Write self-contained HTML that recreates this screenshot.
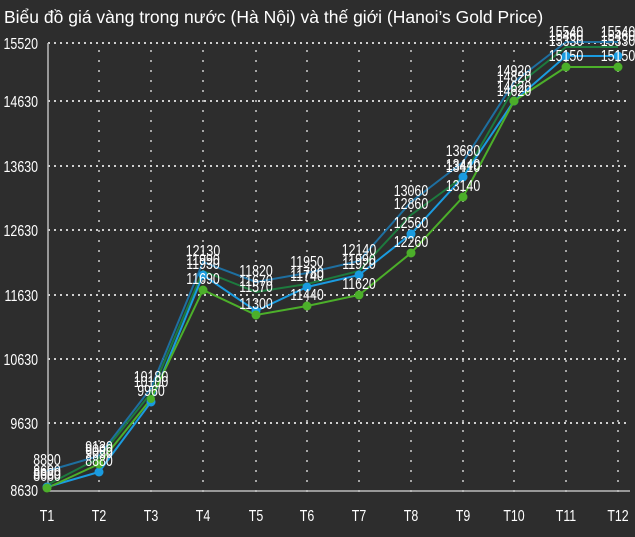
<!DOCTYPE html>
<html><head><meta charset="utf-8"><style>
html,body{margin:0;padding:0;background:#2d2d2d;}
svg{display:block}
.t{font-family:"Liberation Sans",sans-serif;fill:#fff;font-size:15.5px;}
.ax{font-family:"Liberation Sans",sans-serif;fill:#fff;font-size:15.5px;}
</style></head><body>
<svg width="635" height="537" viewBox="0 0 635 537" xmlns="http://www.w3.org/2000/svg">
<rect width="635" height="537" fill="#2d2d2d"/>
<text x="4" y="23" font-family="Liberation Sans, sans-serif" font-size="17.5" fill="#fff">Biểu đồ giá vàng trong nước (Hà Nội) và thế giới (Hanoi’s Gold Price)</text>
<g stroke="#cfcfcf" stroke-width="2" stroke-dasharray="2,4" fill="none">
<line x1="48" y1="43" x2="630" y2="43"/><line x1="48" y1="101" x2="630" y2="101"/>
<line x1="48" y1="166" x2="630" y2="166"/><line x1="48" y1="230" x2="630" y2="230"/>
<line x1="48" y1="295" x2="630" y2="295"/><line x1="48" y1="359" x2="630" y2="359"/>
<line x1="48" y1="423" x2="630" y2="423"/>
</g>
<g stroke="#cfcfcf" stroke-width="1.5" stroke-dasharray="2,8" fill="none">
<line x1="99" y1="50" x2="99" y2="500"/><line x1="151" y1="50" x2="151" y2="500"/>
<line x1="203" y1="50" x2="203" y2="500"/><line x1="256" y1="50" x2="256" y2="500"/>
<line x1="307" y1="50" x2="307" y2="500"/><line x1="359" y1="50" x2="359" y2="500"/>
<line x1="411" y1="50" x2="411" y2="500"/><line x1="463" y1="50" x2="463" y2="500"/>
<line x1="514" y1="50" x2="514" y2="500"/><line x1="566" y1="50" x2="566" y2="500"/>
<line x1="618" y1="50" x2="618" y2="500"/>
</g>
<line x1="48" y1="43" x2="48" y2="491" stroke="#bbb" stroke-width="1.5"/>
<line x1="48" y1="491" x2="630" y2="491" stroke="#bbb" stroke-width="1.5"/>
<g transform="scale(0.8,1)">
<g class="ax" text-anchor="end">
<text x="47.5" y="49">15520</text>
<text x="47.5" y="107">14630</text>
<text x="47.5" y="172">13630</text>
<text x="47.5" y="236">12630</text>
<text x="47.5" y="301">11630</text>
<text x="47.5" y="365">10630</text>
<text x="47.5" y="429">9630</text>
<text x="47.5" y="496">8630</text>
</g>
<g class="ax" text-anchor="middle" font-size="17">
<text x="58.75" y="521">T1</text><text x="123.75" y="521">T2</text><text x="188.75" y="521">T3</text>
<text x="253.75" y="521">T4</text><text x="320" y="521">T5</text><text x="383.75" y="521">T6</text>
<text x="448.75" y="521">T7</text><text x="513.75" y="521">T8</text><text x="578.75" y="521">T9</text>
<text x="642.5" y="521">T10</text><text x="707.5" y="521">T11</text><text x="772.5" y="521">T12</text>
</g>
</g>
<g fill="none" stroke-width="2">
<polyline stroke="#1e6fa0" points="47,471 99,456 151,388 203,262 256,282 307,273 359,261 411,202 463,162 514,82 566,42 618,42"/>
<polyline stroke="#1d7a3e" points="47,485 99,458 151,393 203,271 256,292 307,284 359,271 411,215 463,177 514,88 566,47 618,47"/>
<polyline stroke="#1a9be0" points="47,487 99,472 151,402 203,275 256,311 307,287 359,275 411,234 463,177 514,101 566,56 618,56"/>
<polyline stroke="#4caf2a" points="47,488 99,464 151,399 203,290 256,315 307,306 359,295 411,253 463,197 514,101 566,67 618,67"/>
</g>
<g fill="#1a9be0">
<circle cx="47" cy="487" r="4.5"/><circle cx="99" cy="472" r="4.5"/><circle cx="151" cy="402" r="4.5"/><circle cx="203" cy="275" r="4.5"/><circle cx="256" cy="311" r="4.5"/><circle cx="307" cy="287" r="4.5"/><circle cx="359" cy="275" r="4.5"/><circle cx="411" cy="234" r="4.5"/><circle cx="463" cy="177" r="4.5"/><circle cx="514" cy="101" r="4.5"/><circle cx="566" cy="56" r="4.5"/><circle cx="618" cy="56" r="4.5"/>
</g>
<g fill="#4caf2a">
<circle cx="47" cy="488" r="4.5"/><circle cx="99" cy="464" r="4.5"/><circle cx="151" cy="399" r="4"/><circle cx="203" cy="290" r="4.5"/><circle cx="256" cy="315" r="4.5"/><circle cx="307" cy="306" r="4.5"/><circle cx="359" cy="295" r="4.5"/><circle cx="411" cy="253" r="4.5"/><circle cx="463" cy="197" r="4.5"/><circle cx="514" cy="101" r="4.5"/><circle cx="566" cy="67" r="4.5"/><circle cx="618" cy="67" r="4.5"/>
</g>
<g transform="scale(0.8,1)">
<g class="t" text-anchor="middle">
<text x="58.75" y="465">8890</text><text x="58.75" y="479">8680</text><text x="58.75" y="481">8660</text><text x="58.75" y="476">8600</text>
<text x="123.75" y="452">9130</text><text x="123.75" y="455">9090</text><text x="123.75" y="466">8880</text><text x="123.75" y="458">9050</text>
<text x="188.75" y="382">10180</text><text x="188.75" y="387">10100</text><text x="188.75" y="396">9960</text>
<text x="253.75" y="256">12130</text><text x="253.75" y="265">11990</text><text x="253.75" y="269">11930</text><text x="253.75" y="284">11690</text>
<text x="320" y="276">11820</text><text x="320" y="286">11670</text><text x="320" y="292">11570</text><text x="320" y="309">11300</text>
<text x="383.75" y="267">11950</text><text x="383.75" y="278">11780</text><text x="383.75" y="281">11740</text><text x="383.75" y="300">11440</text>
<text x="448.75" y="255">12140</text><text x="448.75" y="265">11990</text><text x="448.75" y="269">11920</text><text x="448.75" y="289">11620</text>
<text x="513.75" y="196">13060</text><text x="513.75" y="209">12860</text><text x="513.75" y="228">12560</text><text x="513.75" y="247">12260</text>
<text x="578.75" y="156">13680</text><text x="578.75" y="170">13440</text><text x="578.75" y="172">13410</text><text x="578.75" y="191">13140</text>
<text x="642.5" y="76">14920</text><text x="642.5" y="82">14820</text><text x="642.5" y="92">14620</text><text x="642.5" y="96">14620</text>
<text x="707.5" y="37">15540</text><text x="707.5" y="41">15460</text><text x="707.5" y="46">15330</text><text x="707.5" y="61">15150</text>
<text x="772.5" y="37">15540</text><text x="772.5" y="41">15460</text><text x="772.5" y="46">15330</text><text x="772.5" y="61">15150</text>
</g>
</g>
</svg>
</body></html>
